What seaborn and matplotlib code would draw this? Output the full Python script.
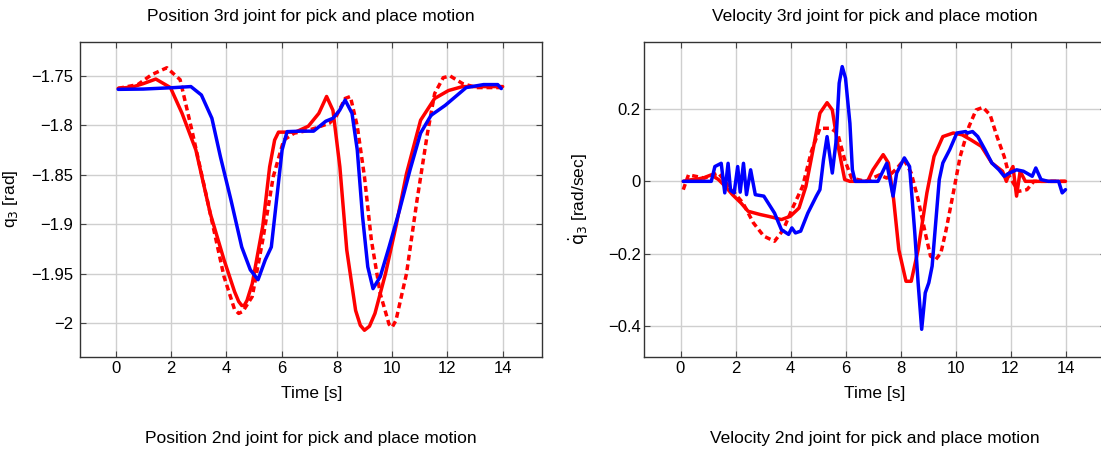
import numpy as np
import pandas as pd
import matplotlib
matplotlib.use("Agg")
import matplotlib.pyplot as plt
import seaborn as sns

# ---------------- data: position (left) ----------------
pos_red_t = [0.09, 0.6, 1.0, 1.45, 1.98, 2.4, 2.9, 3.42, 3.92, 4.3, 4.45, 4.56, 4.65, 4.75, 4.94, 5.32,
             5.57, 5.75, 5.89, 6.1, 6.5, 6.97, 7.35, 7.63, 7.86, 8.11, 8.36, 8.68, 8.85, 9.0, 9.18,
             9.38, 9.76, 10.14, 10.52, 11.03, 11.54, 12.04, 12.55, 13.2, 14.0]
pos_red_q = [-1.7628, -1.7615, -1.758, -1.7534, -1.762, -1.788, -1.825, -1.889, -1.936, -1.968,
             -1.978, -1.982, -1.982, -1.977, -1.96, -1.902, -1.842, -1.815, -1.807, -1.807, -1.807,
             -1.801, -1.788, -1.771, -1.785, -1.842, -1.926, -1.987, -2.002, -2.007, -2.003, -1.99,
             -1.95, -1.902, -1.849, -1.795, -1.773, -1.765, -1.761, -1.761, -1.761]

pos_ref_t = [0.09, 0.8, 1.3, 1.85, 2.33, 2.78, 3.42, 3.92, 4.3, 4.45, 4.6, 4.94, 5.32, 5.7, 6.08, 6.46,
             6.84, 7.22, 7.73, 7.98, 8.3, 8.49, 8.74, 9.0, 9.25, 9.57, 9.89, 10.0, 10.14, 10.52, 10.9,
             11.28, 11.54, 11.85, 12.1, 12.55, 13.06, 14.0]
pos_ref_q = [-1.7628, -1.759, -1.749, -1.742, -1.754, -1.808, -1.889, -1.953, -1.986, -1.99, -1.988,
             -1.973, -1.916, -1.852, -1.815, -1.808, -1.806, -1.803, -1.798, -1.791, -1.773, -1.771,
             -1.801, -1.852, -1.916, -1.97, -2.001, -2.004, -1.997, -1.95, -1.876, -1.808, -1.768,
             -1.752, -1.7503, -1.758, -1.762, -1.762]

pos_blue_t = [0.09, 1.0, 2.14, 2.72, 3.1, 3.48, 3.79, 4.17, 4.56, 4.87, 5.15, 5.41, 5.63, 5.82, 6.02,
              6.2, 6.7, 7.16, 7.6, 7.86, 8.1, 8.3, 8.55, 8.74, 8.93, 9.12, 9.31, 9.57, 9.89, 10.27,
              10.65, 11.03, 11.41, 11.92, 12.3, 12.68, 13.31, 13.82, 13.95]
pos_blue_q = [-1.7638, -1.7635, -1.762, -1.761, -1.7695, -1.793, -1.832, -1.8755, -1.923, -1.946,
              -1.956, -1.936, -1.923, -1.8755, -1.825, -1.8065, -1.806, -1.806, -1.796, -1.793,
              -1.785, -1.7746, -1.788, -1.825, -1.892, -1.943, -1.965, -1.953, -1.923, -1.8856,
              -1.845, -1.808, -1.79, -1.78, -1.771, -1.762, -1.759, -1.759, -1.763]

# ---------------- data: velocity (right) ----------------
vel_red_t = [0.1, 0.35, 0.6, 0.85, 1.12, 1.38, 1.63, 1.89, 2.2, 2.46, 2.9, 3.2, 3.42, 3.67, 3.99, 4.31,
             4.56, 4.82, 5.07, 5.33, 5.52, 5.71, 5.97, 6.16, 6.8, 7.0, 7.37, 7.56, 7.75, 7.94, 8.2,
             8.39, 8.64, 8.96, 9.22, 9.54, 9.92, 10.24, 10.56, 10.94, 11.32, 11.71, 11.85, 11.96,
             12.09, 12.22, 12.35, 12.54, 14.0]
vel_red_v = [0.0, 0.004, 0.006, 0.01, 0.018, 0.005, -0.014, -0.037, -0.06, -0.083, -0.092, -0.097,
             -0.101, -0.106, -0.097, -0.074, -0.014, 0.088, 0.189, 0.218, 0.198, 0.106, 0.005, 0.0,
             0.0, 0.032, 0.074, 0.051, -0.05, -0.19, -0.277, -0.277, -0.19, -0.032, 0.069, 0.124,
             0.134, 0.129, 0.115, 0.097, 0.051, 0.028, 0.0, 0.023, 0.041, -0.041, 0.028, 0.0, 0.0]

vel_ref_t = [0.1, 0.29, 0.87, 1.38, 1.76, 2.27, 2.65, 3.03, 3.42, 3.74, 4.05, 4.44, 4.76, 5.07, 5.46,
             5.71, 5.97, 6.22, 6.73, 7.24, 7.5, 7.88, 8.13, 8.39, 8.64, 8.9, 9.09, 9.28, 9.47, 9.66,
             9.92, 10.17, 10.49, 10.75, 11.0, 11.26, 11.51, 11.77, 11.96, 12.28, 12.6, 12.85, 14.0]
vel_ref_v = [-0.023, 0.018, 0.009, 0.023, -0.014, -0.06, -0.115, -0.152, -0.166, -0.134, -0.078,
             -0.014, 0.083, 0.147, 0.147, 0.134, 0.06, 0.009, 0.0, 0.018, 0.009, 0.037, 0.06, 0.023,
             -0.05, -0.143, -0.207, -0.217, -0.198, -0.134, -0.032, 0.069, 0.152, 0.198, 0.205,
             0.184, 0.124, 0.069, 0.014, -0.028, -0.023, 0.0, 0.0]

vel_blue_t = [0.1, 1.12, 1.25, 1.48, 1.61, 1.73, 1.82, 1.95, 2.08, 2.17, 2.29, 2.4, 2.55, 2.72, 3.03,
              3.42, 3.67, 3.93, 4.05, 4.18, 4.37, 4.63, 4.94, 5.07, 5.2, 5.33, 5.52, 5.65, 5.77, 5.88,
              6.0, 6.16, 6.25, 6.35, 7.18, 7.5, 7.73, 7.86, 8.14, 8.33, 8.52, 8.64, 8.77, 8.9, 9.03,
              9.15, 9.28, 9.41, 9.54, 9.79, 10.05, 10.37, 10.43, 10.62, 10.81, 11.07, 11.32, 11.58,
              11.77, 11.96, 12.22, 12.47, 12.79, 12.92, 13.11, 13.37, 13.75, 13.88, 14.0]
vel_blue_v = [0.0, 0.0, 0.041, 0.05, -0.032, 0.05, -0.025, -0.032, 0.041, -0.03, 0.05, -0.037,
              0.032, -0.037, -0.041, -0.088, -0.134, -0.147, -0.129, -0.143, -0.138, -0.088, -0.041,
              -0.023, 0.06, 0.124, 0.023, 0.106, 0.272, 0.318, 0.286, 0.161, 0.032, 0.0, 0.0, 0.05,
              -0.041, 0.023, 0.065, 0.041, -0.143, -0.281, -0.41, -0.309, -0.281, -0.235, -0.115,
              0.005, 0.051, 0.088, 0.134, 0.138, 0.134, 0.138, 0.124, 0.088, 0.051, 0.032, 0.014,
              0.023, 0.032, 0.028, 0.014, 0.037, 0.005, 0.0, 0.0, -0.032, -0.023]

# ---------------- tick labels / text ----------------
x_ticks = [0, 2, 4, 6, 8, 10, 12, 14]
pos_yticks = [-1.75, -1.8, -1.85, -1.9, -1.95, -2.0]
pos_ylabels = ["\u22121.75", "\u22121.8", "\u22121.85", "\u22121.9", "\u22121.95", "\u22122"]
vel_yticks = [0.2, 0.0, -0.2, -0.4]
vel_ylabels = ["0.2", "0", "\u22120.2", "\u22120.4"]
titles_top = ["Position 3rd joint for pick and place motion", "Velocity 3rd joint for pick and place motion"]
titles_bottom = ["Position 2nd joint for pick and place motion", "Velocity 2nd joint for pick and place motion"]

# ---------------- figure ----------------
sns.set_style("whitegrid")
plt.rcParams["font.family"] = ["Liberation Sans", "DejaVu Sans"]
plt.rcParams["axes.unicode_minus"] = True
plt.rcParams["text.color"] = "black"
plt.rcParams["axes.labelcolor"] = "black"
plt.rcParams["xtick.color"] = "black"
plt.rcParams["ytick.color"] = "black"

W, H = 1101, 449
fig = plt.figure(figsize=(W / 100, H / 100), dpi=100)

def px_axes(x0, x1, y0, y1):
    return fig.add_axes([x0 / W, 1 - y1 / H, (x1 - x0) / W, (y1 - y0) / H])

L0, L1 = 80, 542.3
R0, R1 = 644, 1106
T0, B0 = 41.7, 356.7
axL = px_axes(L0, L1, T0, B0)
axR = px_axes(R0, R1, T0, B0)

dash = (0, (1.7, 1.1))
lw = 2.5

def draw(ax, t_red, y_red, t_ref, y_ref, t_blue, y_blue):
    sns.lineplot(x=t_ref, y=y_ref, ax=ax, color="#ff0000", linewidth=lw, linestyle=dash,
                 sort=False, estimator=None)
    sns.lineplot(x=t_red, y=y_red, ax=ax, color="#ff0000", linewidth=lw, sort=False, estimator=None)
    sns.lineplot(x=t_blue, y=y_blue, ax=ax, color="#0000ff", linewidth=lw, sort=False, estimator=None)

draw(axL, pos_red_t, pos_red_q, pos_ref_t, pos_ref_q, pos_blue_t, pos_blue_q)
draw(axR, vel_red_t, vel_red_v, vel_ref_t, vel_ref_v, vel_blue_t, vel_blue_v)

axL.set_xlim((L0 - 115.7) / 27.64, (L1 - 115.7) / 27.64)
axL.set_ylim(-2.0337, -1.7157)
axR.set_xlim((R0 - 680.5) / 27.5, (R1 - 680.5) / 27.5)
axR.set_ylim(-0.486, 0.387)

axL.set_yticks(pos_yticks, pos_ylabels)
axR.set_yticks(vel_yticks, vel_ylabels)

for ax in (axL, axR):
    ax.set_xticks(x_ticks, [str(v) for v in x_ticks])
    ax.grid(True, color="#cfcfcf", linewidth=1.0)
    ax.set_axisbelow(True)
    for s in ax.spines.values():
        s.set_color("#333333")
        s.set_linewidth(1.0)
    ax.tick_params(direction="in", length=4, width=0.8, color="#444444", labelsize=12,
                   left=True, bottom=True, right=True, top=True)
    ax.tick_params(axis="x", pad=3)
    ax.set_xlabel("Time [s]", fontsize=12.5)

axL.tick_params(axis="y", pad=5)
axR.tick_params(axis="y", pad=2.3)

axL.set_ylabel("q$_3$ [rad]", fontsize=12.5)
axR.set_ylabel(r"$\dot{\mathrm{q}}_3$ [rad/sec]", fontsize=12.5)
axL.yaxis.set_label_coords((20 - L0) / (L1 - L0), 0.5)
axR.yaxis.set_label_coords((591 - R0) / (R1 - R0), 0.5)
axL.xaxis.set_label_coords((311.8 - L0) / (L1 - L0), -(386 - B0) / (B0 - T0))
axR.xaxis.set_label_coords((875 - R0) / (R1 - R0), -(386 - B0) / (B0 - T0))

fig.text(311 / W, 1 - 16 / H, titles_top[0], ha="center", va="center", fontsize=12.5)
fig.text(875 / W, 1 - 16 / H, titles_top[1], ha="center", va="center", fontsize=12.5)
fig.text(311 / W, 1 - 438 / H, titles_bottom[0], ha="center", va="center", fontsize=12.5)
fig.text(875 / W, 1 - 438 / H, titles_bottom[1], ha="center", va="center", fontsize=12.5)

fig.savefig("out.png", dpi=100)
